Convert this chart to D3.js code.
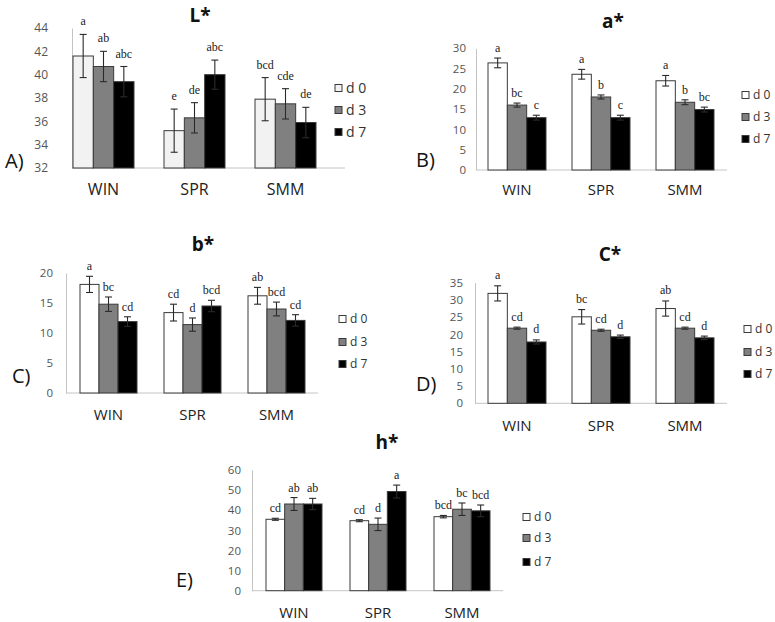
<!DOCTYPE html>
<html>
<head>
<meta charset="utf-8">
<script src="https://cdn.jsdelivr.net/npm/d3@7"></script>
<style>
  html, body { margin: 0; padding: 0; background: #fff; }
  svg { display: block; }
</style>
</head>
<body>
<svg id="chart" width="775" height="622"></svg>
<script>
// ---------- DATA ----------
const categories = ["WIN", "SPR", "SMM"];
const seriesNames = ["d 0", "d 3", "d 7"];

// L*
const L_mean = [[41.6, 40.7, 39.4], [35.2, 36.3, 40.0], [37.9, 37.5, 35.9]];
const L_err  = [[1.85, 1.3, 1.3], [1.85, 1.3, 1.25], [1.85, 1.3, 1.3]];
const L_sig  = [["a", "ab", "abc"], ["e", "de", "abc"], ["bcd", "cde", "de"]];
const L_ticks = [32, 34, 36, 38, 40, 42, 44];

// a*
const a_mean = [[26.4, 16.0, 12.9], [23.6, 18.0, 12.9], [22.0, 16.7, 14.9]];
const a_err  = [[1.2, 0.5, 0.6], [1.2, 0.5, 0.6], [1.3, 0.6, 0.6]];
const a_sig  = [["a", "bc", "c"], ["a", "b", "c"], ["a", "b", "bc"]];
const a_ticks = [0, 5, 10, 15, 20, 25, 30];

// b*
const b_mean = [[18.1, 14.8, 11.9], [13.4, 11.4, 14.5], [16.2, 14.0, 12.1]];
const b_err  = [[1.35, 1.2, 0.8], [1.4, 1.1, 0.95], [1.4, 1.15, 0.95]];
const b_sig  = [["a", "bc", "cd"], ["cd", "d", "bcd"], ["ab", "bcd", "cd"]];
const b_ticks = [0, 5, 10, 15, 20];

// C*
const C_mean = [[31.9, 21.8, 17.8], [25.1, 21.2, 19.3], [27.5, 21.8, 19.0]];
const C_err  = [[2.2, 0.3, 0.6], [2.1, 0.3, 0.5], [2.2, 0.3, 0.5]];
const C_sig  = [["a", "cd", "d"], ["bc", "cd", "d"], ["ab", "cd", "d"]];
const C_ticks = [0, 5, 10, 15, 20, 25, 30, 35];

// h*
const h_mean = [[35.5, 43.1, 43.1], [34.8, 33.0, 49.3], [36.8, 40.5, 39.7]];
const h_err  = [[0.5, 3.2, 2.8], [0.5, 3.1, 3.2], [0.6, 3.1, 2.9]];
const h_sig  = [["cd", "ab", "ab"], ["cd", "d", "a"], ["bcd", "bc", "bcd"]];
const h_ticks = [0, 10, 20, 30, 40, 50, 60];

// ---------- LAYOUT ----------
const panels = [
  { title: "L*", tag: "A)", mean: L_mean, err: L_err, sig: L_sig, ticks: L_ticks,
    axisX: 72, xEnd: 345, yBottom: 168, yTop: 28, bandStart: 73, step: 91, gw: 61,
    d0: "#f2f2f2", titlePos: [200, 22], tagPos: [5, 168], legX: 335, legRows: [88, 110, 132],
    legFont: 14, sq: 7, catFont: 16, tickFont: 12, tickPad: 24, sigGap: 9, catDy: 21 },
  { title: "a*", tag: "B)", mean: a_mean, err: a_err, sig: a_sig, ticks: a_ticks,
    axisX: 476, xEnd: 727, yBottom: 170, yTop: 48.3, bandStart: 488, step: 84, gw: 58,
    d0: "#ffffff", titlePos: [613, 28], tagPos: [416, 167], legX: 742, legRows: [95, 117, 139],
    legFont: 12, sq: 7, catFont: 15, tickFont: 11.5, tickPad: 10, sigGap: 6, catDy: 20 },
  { title: "b*", tag: "C)", mean: b_mean, err: b_err, sig: b_sig, ticks: b_ticks,
    axisX: 66, xEnd: 318, yBottom: 393, yTop: 273, bandStart: 80, step: 84, gw: 57,
    d0: "#ffffff", titlePos: [203, 251], tagPos: [12, 383], legX: 339, legRows: [319, 342, 364],
    legFont: 12, sq: 7, catFont: 15, tickFont: 11.5, tickPad: 13, sigGap: 6, catDy: 22 },
  { title: "C*", tag: "D)", mean: C_mean, err: C_err, sig: C_sig, ticks: C_ticks,
    axisX: 475, xEnd: 727, yBottom: 403.3, yTop: 282.7, bandStart: 488, step: 84, gw: 58,
    d0: "#ffffff", titlePos: [610, 261], tagPos: [416, 391], legX: 744, legRows: [329, 352, 374],
    legFont: 12, sq: 7, catFont: 15, tickFont: 11.5, tickPad: 12, sigGap: 6.5, catDy: 22 },
  { title: "h*", tag: "E)", mean: h_mean, err: h_err, sig: h_sig, ticks: h_ticks,
    axisX: 252, xEnd: 503, yBottom: 590.7, yTop: 470, bandStart: 266, step: 84, gw: 56,
    d0: "#ffffff", titlePos: [387, 449], tagPos: [176, 587], legX: 523, legRows: [517, 538, 562],
    legFont: 12, sq: 7, catFont: 15, tickFont: 11.5, tickPad: 11, sigGap: 6, catDy: 22 }
];

const svg = d3.select("#chart");
const SANS = "'Open Sans', 'Noto Sans', sans-serif";
const SERIF = "'Liberation Serif', 'DejaVu Serif', serif";
const AXIS_COLOR = "#c4c4c4";
const EDGE = "#3a3a3a";

function drawPanel(p) {
  const g = svg.append("g");
  const colors = [p.d0, "#808080", "#000000"];
  const color = d3.scaleOrdinal().domain(seriesNames).range(colors);

  const y = d3.scaleLinear()
    .domain([p.ticks[0], p.ticks[p.ticks.length - 1]])
    .range([p.yBottom, p.yTop]);

  const x0 = d3.scaleBand()
    .domain(categories)
    .range([p.bandStart, p.bandStart + 2 * p.step + p.gw])
    .paddingInner((p.step - p.gw) / p.step)
    .paddingOuter(0);

  const x1 = d3.scaleBand()
    .domain(seriesNames)
    .range([0, x0.bandwidth()])
    .padding(0);

  // y axis
  const yAxis = g.append("g")
    .attr("transform", `translate(${p.axisX},0)`)
    .call(d3.axisLeft(y).tickValues(p.ticks).tickSize(0).tickSizeOuter(0).tickPadding(p.tickPad));
  yAxis.select(".domain").attr("stroke", AXIS_COLOR);
  yAxis.selectAll("text")
    .attr("font-family", SANS).attr("font-size", p.tickFont).attr("fill", "#555");

  // x axis line
  g.append("line")
    .attr("x1", p.axisX).attr("x2", p.xEnd)
    .attr("y1", y(p.ticks[0])).attr("y2", y(p.ticks[0]))
    .attr("stroke", AXIS_COLOR);

  // category labels
  const xAxis = g.append("g")
    .attr("transform", `translate(0,${y(p.ticks[0])})`)
    .call(d3.axisBottom(x0).tickSize(0).tickPadding(0));
  xAxis.select(".domain").remove();
  xAxis.selectAll("text")
    .attr("y", p.catDy).attr("dy", "0.35em")
    .attr("font-family", SANS).attr("font-size", p.catFont).attr("fill", "#222");

  // bars
  const rows = categories.map((c, ci) => seriesNames.map((s, si) => ({
    cat: c, ser: s, v: p.mean[ci][si], e: p.err[ci][si], sig: p.sig[ci][si]
  }))).flat();

  const bg = g.append("g");
  bg.selectAll("rect").data(rows).join("rect")
    .attr("x", d => x0(d.cat) + x1(d.ser))
    .attr("width", x1.bandwidth())
    .attr("y", d => y(d.v))
    .attr("height", d => y(p.ticks[0]) - y(d.v))
    .attr("fill", d => color(d.ser))
    .attr("stroke", EDGE).attr("stroke-width", 1);

  // error bars
  const capW = 3.5;
  const eg = g.append("g").attr("stroke", "#2a2a2a").attr("stroke-width", 1.1);
  rows.forEach(d => {
    const cx = x0(d.cat) + x1(d.ser) + x1.bandwidth() / 2;
    const yt = y(d.v + d.e), yb = y(d.v - d.e);
    eg.append("line").attr("x1", cx).attr("x2", cx).attr("y1", yt).attr("y2", yb);
    eg.append("line").attr("x1", cx - capW).attr("x2", cx + capW).attr("y1", yt).attr("y2", yt);
    eg.append("line").attr("x1", cx - capW).attr("x2", cx + capW).attr("y1", yb).attr("y2", yb);
  });

  // significance letters
  g.append("g").selectAll("text").data(rows).join("text")
    .attr("x", d => x0(d.cat) + x1(d.ser) + x1.bandwidth() / 2)
    .attr("y", d => y(d.v + d.e) - p.sigGap)
    .attr("text-anchor", "middle")
    .attr("font-family", SERIF).attr("font-size", 12).attr("fill", "#222")
    .text(d => d.sig);

  // title
  g.append("text")
    .attr("x", p.titlePos[0]).attr("y", p.titlePos[1])
    .attr("text-anchor", "middle")
    .attr("font-family", SANS).attr("font-weight", "bold").attr("font-size", 19).attr("fill", "#111")
    .text(p.title);

  // panel tag
  g.append("text")
    .attr("x", p.tagPos[0]).attr("y", p.tagPos[1])
    .attr("font-family", SANS).attr("font-size", 20).attr("fill", "#111")
    .text(p.tag);

  // legend
  const lg = g.append("g");
  seriesNames.forEach((s, i) => {
    const cy = p.legRows[i];
    lg.append("rect")
      .attr("x", p.legX).attr("y", cy - p.sq / 2)
      .attr("width", p.sq).attr("height", p.sq)
      .attr("fill", color(s)).attr("stroke", EDGE).attr("stroke-width", 1);
    lg.append("text")
      .attr("x", p.legX + p.sq + 4).attr("y", cy).attr("dy", "0.35em")
      .attr("font-family", SANS).attr("font-size", p.legFont).attr("fill", "#333")
      .text(s);
  });
}

panels.forEach(drawPanel);
</script>
</body>
</html>
